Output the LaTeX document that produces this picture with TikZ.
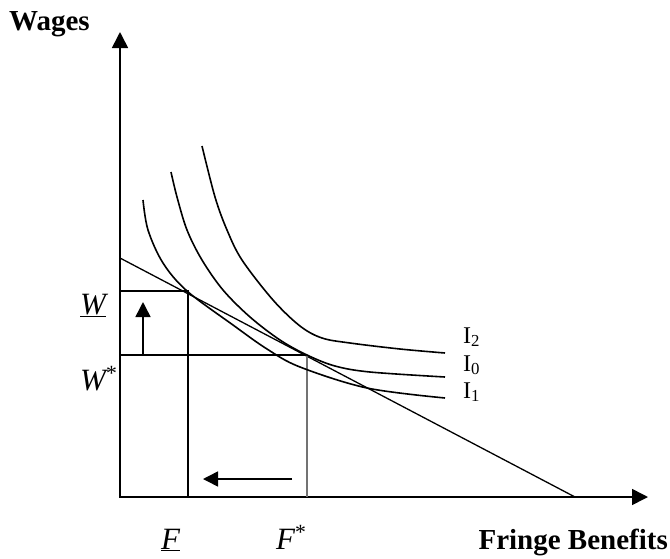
\documentclass[tikz,border=0pt]{standalone}
\usepackage{fontspec}
\setmainfont{Liberation Serif}
\usetikzlibrary{arrows.meta}
\begin{document}
\begin{tikzpicture}[x=1pt,y=-1pt,
  axis/.style={line width=1.6pt,-{Triangle[length=16pt,width=16pt]}},
  curve/.style={line width=1.6pt,smooth,tension=0.55},
  thin/.style={line width=1.1pt},
  shiftarrow/.style={line width=1.5pt,-{Triangle[length=15pt,width=15pt]}},
  axlabel/.style={font=\fontsize{29}{34}\selectfont\bfseries,inner sep=0pt},
  mlabel/.style={font=\fontsize{31}{36}\selectfont\itshape,inner sep=0pt},
  ilabel/.style={font=\fontsize{24}{28}\selectfont,inner sep=0pt}]
\useasboundingbox (0,0) rectangle (670,558);
% key points
\coordinate (O) at (120,497);
\coordinate (Ytop) at (120,32);
\coordinate (Xstart) at (119,497);
\coordinate (Xend) at (648,497);
\coordinate (B1) at (120,258);
\coordinate (B2) at (575,497);
\coordinate (WL) at (120,291);
\coordinate (WR) at (188,291);
\coordinate (FB) at (188,497);
\coordinate (WsL) at (120,355);
\coordinate (WsR) at (307,355);
\coordinate (FsB) at (307,497);
\coordinate (UA1) at (143,355);
\coordinate (UA2) at (143,302);
\coordinate (LA1) at (292,479);
\coordinate (LA2) at (203,479);
% axes
\draw[axis] (O) -- (Ytop);
\draw[axis] (Xstart) -- (Xend);
% budget line
\draw[line width=1.3pt] (B1) -- (B2);
% guide lines
\draw[thin] (WL) -- (WR) -- (FB);
\draw[thin] (WsL) -- (WsR);
\draw[line width=1.3pt,black!55] (WsR) -- (FsB);
% shift arrows
\draw[shiftarrow] (UA1) -- (UA2);
\draw[shiftarrow] (LA1) -- (LA2);
% indifference curves
\draw[curve] plot coordinates {(202,146) (215,197) (227,230) (242,260) (273,300) (300,326) (322,338) (350,343) (400,349) (445,353)};
\draw[curve] plot coordinates {(171,172) (177,197) (187,230) (202,260) (223,290) (250,317) (280,340) (307,355) (335,366) (370,372) (445,377)};
\draw[curve] plot coordinates {(143,200) (148,230) (163,263) (187,291) (233,325) (267,349) (300,367) (367,388) (445,398)};
% labels
\node[axlabel,anchor=base west] (wages) at (9,30) {Wages};
\node[axlabel,anchor=base east] (fringe) at (668,549) {Fringe Benefits};
\node[ilabel,anchor=base west] (i2) at (463,343) {I\textsubscript{2}};
\node[ilabel,anchor=base west] (i0) at (463,371) {I\textsubscript{0}};
\node[ilabel,anchor=base west] (i1) at (463,398) {I\textsubscript{1}};
\node[mlabel,anchor=base west] (wbar) at (80,314) {\underline{W}};
\node[mlabel,anchor=base west] (wstar) at (80,390) {W\textsuperscript{\upshape *}};
\node[mlabel,anchor=base west] (fbar) at (161,549) {\underline{F}};
\node[mlabel,anchor=base west] (fstar) at (276,549) {F\textsuperscript{\upshape *}};
\end{tikzpicture}
\end{document}
